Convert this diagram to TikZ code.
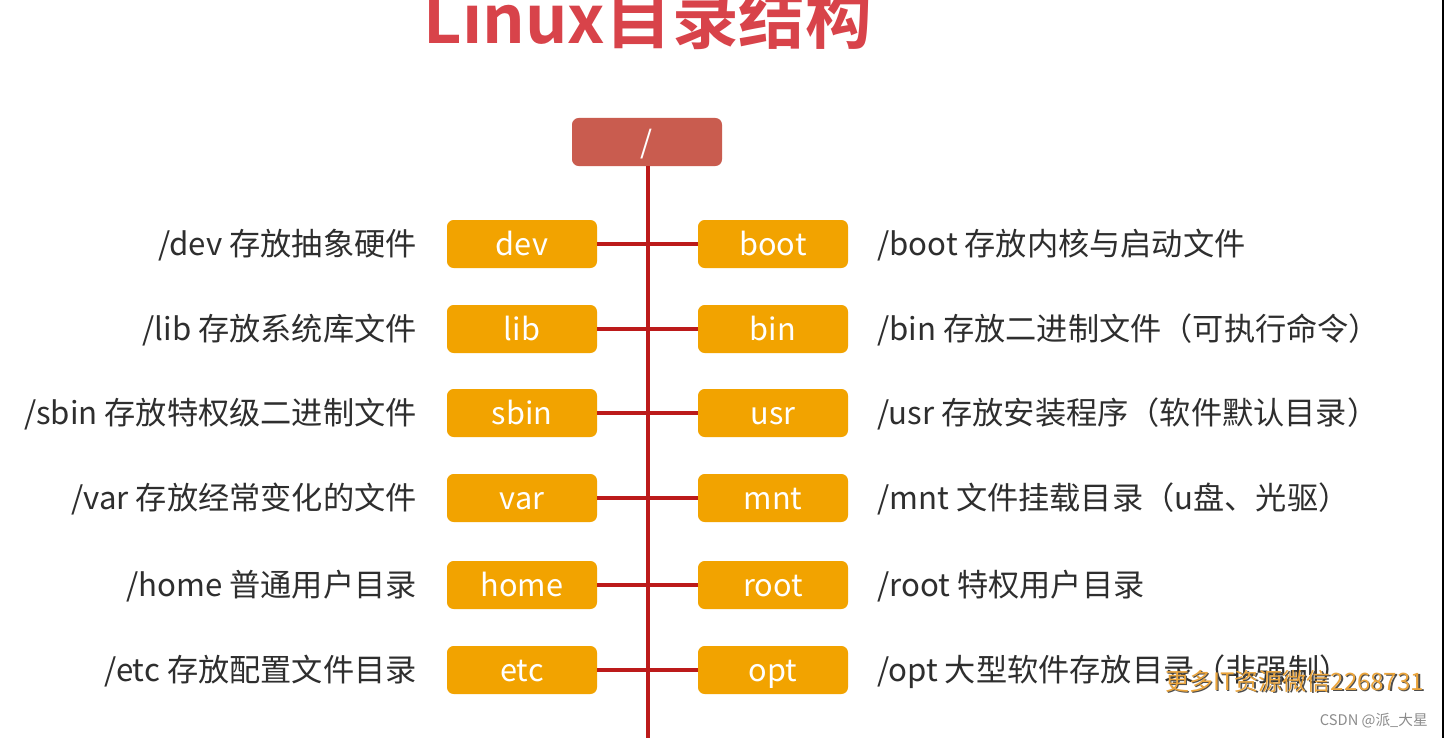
\documentclass[tikz,border=0pt]{standalone}
\usepackage{fontspec}
\setmainfont{Noto Sans CJK SC}
\newfontfamily\cjkbold{Noto Sans CJK SC Bold}
\definecolor{titlered}{HTML}{D8434A}
\definecolor{rootred}{HTML}{C95C4F}
\definecolor{linered}{HTML}{BC1A1A}
\definecolor{boxorange}{HTML}{F2A300}
\definecolor{labelgray}{HTML}{2E2E2E}
\definecolor{wmorange}{HTML}{EBA53C}
\begin{document}
\begin{tikzpicture}[x=0.75pt,y=-0.75pt,
  dirbox/.style={fill=boxorange,rounded corners=5pt,minimum width=112.5pt,minimum height=36pt,
    inner sep=0pt,text=white,font=\fontsize{23pt}{25pt}\selectfont,text height=21pt,text depth=4.5pt},
  rootbox/.style={dirbox,fill=rootred},
  conn/.style={draw=linered,line width=2.4pt},
  lab/.style={text=labelgray,font=\fontsize{23.4pt}{25pt}\selectfont,inner sep=0pt}]
\useasboundingbox (0,0) rectangle (1444,738);
\clip (0,0) rectangle (1444,738);
\fill[white] (0,0) rectangle (1444,738);
% title
\node[anchor=base,text=titlered,inner sep=0pt,font=\cjkbold\fontsize{50pt}{54pt}\selectfont] (title) at (648,44) {Linux目录结构};
% root
\node[rootbox] (root) at (647,142) {/};
\coordinate (bottom) at (648,742);
\draw[conn] (root.south -| bottom) -- (bottom);
% rows
\foreach \y/\l/\r/\ltxt/\rtxt/\n in {
  244/dev/boot/{/dev 存放抽象硬件}/{/boot 存放内核与启动文件}/1,
  329/lib/bin/{/lib 存放系统库文件}/{/bin 存放二进制文件（可执行命令）}/2,
  413/sbin/usr/{/sbin 存放特权级二进制文件}/{/usr 存放安装程序（软件默认目录）}/3,
  498/var/mnt/{/var 存放经常变化的文件}/{/mnt 文件挂载目录（u盘、光驱）}/4,
  585/home/root/{/home 普通用户目录}/{/root 特权用户目录}/5,
  670/etc/opt/{/etc 存放配置文件目录}/{/opt 大型软件存放目录（非强制）}/6}{
  \node[dirbox] (L\n) at (522,\y) {\l};
  \node[dirbox] (R\n) at (773,\y) {\r};
  \draw[conn] (L\n.east) -- (R\n.west);
  \node[lab,anchor=base east] (LT\n) at (417,\y+11) {\ltxt};
  \node[lab,anchor=base west] (RT\n) at (877,\y+11) {\rtxt};
}
% watermark
\node[anchor=base west,inner sep=0pt,text=black!70,font=\fontsize{18pt}{20pt}\selectfont] at (1166.5,691.5) {更多IT资源微信2268731};
\node[anchor=base west,inner sep=0pt,text=wmorange,font=\fontsize{18pt}{20pt}\selectfont] (wm) at (1165,690) {更多IT资源微信2268731};
\node[anchor=base east,inner sep=0pt,text=black!45,font=\fontsize{11pt}{12pt}\selectfont] (csdn) at (1428,725) {CSDN @派\_大星};
% right edge
\draw[black,line width=1.5pt] (1443,0) -- (1443,738);
\end{tikzpicture}
\end{document}
